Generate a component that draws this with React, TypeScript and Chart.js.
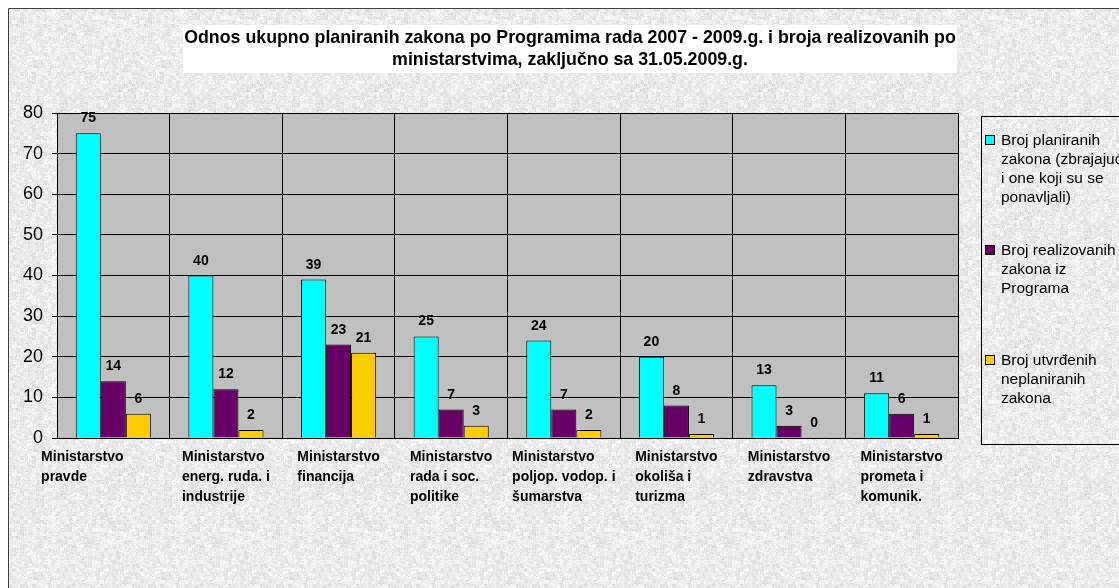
import { useEffect, useRef } from "react";
import { Chart, registerables } from "chart.js";

Chart.register(...registerables);

const categories: string[][] = [
  ["Ministarstvo", "pravde"],
  ["Ministarstvo", "energ. ruda. i", "industrije"],
  ["Ministarstvo", "financija"],
  ["Ministarstvo", "rada i soc.", "politike"],
  ["Ministarstvo", "poljop. vodop. i", "šumarstva"],
  ["Ministarstvo", "okoliša i", "turizma"],
  ["Ministarstvo", "zdravstva"],
  ["Ministarstvo", "prometa i", "komunik."],
];
const planned = [75, 40, 39, 25, 24, 20, 13, 11];
const realized = [14, 12, 23, 7, 7, 8, 3, 6];
const unplanned = [6, 2, 21, 3, 2, 1, 0, 1];
const seriesNames: string[][] = [
  ["Broj planiranih", "zakona (zbrajajući", "i one koji su se", "ponavljali)"],
  ["Broj realizovanih", "zakona iz", "Programa"],
  ["Broj utvrđenih", "neplaniranih", "zakona"],
];
const seriesColors = ["#00FFFF", "#660066", "#FFCC00"];
const titleLines = [
  "Odnos ukupno planiranih zakona po Programima rada 2007 - 2009.g. i broja realizovanih po",
  "ministarstvima, zaključno sa 31.05.2009.g.",
];
const yMin = 0;
const yMax = 80;
const yStep = 10;

const FONT = "'Liberation Sans', Arial, sans-serif";

let texture: CanvasPattern | null = null;
function getTexture(ctx: CanvasRenderingContext2D): CanvasPattern | null {
  if (texture) return texture;
  const size = 128;
  const off = document.createElement("canvas");
  off.width = size;
  off.height = size;
  const octx = off.getContext("2d");
  if (!octx) return null;
  const img = octx.createImageData(size, size);
  const h = (x: number, y: number, s: number) => {
    let n = (x * 374761393 + y * 668265263 + s * 144665) | 0;
    n = ((n ^ (n >>> 13)) * 1274126177) | 0;
    n = n ^ (n >>> 16);
    return ((n >>> 0) % 1000) / 1000;
  };
  for (let y = 0; y < size; y++) {
    for (let x = 0; x < size; x++) {
      const a = h(x, y, 1);
      const b = h(x >> 2, y >> 2, 7);
      const v = Math.round(250 - 38 * (0.55 * a * a + 0.45 * b));
      const i = (y * size + x) * 4;
      img.data[i] = v;
      img.data[i + 1] = v;
      img.data[i + 2] = v;
      img.data[i + 3] = 255;
    }
  }
  octx.putImageData(img, 0, 0);
  texture = ctx.createPattern(off, "repeat");
  return texture;
}

const decorPlugin = {
  id: "decor",
  beforeDraw(chart: any) {
    const { ctx, chartArea, width, height } = chart;
    ctx.save();
    const pat = getTexture(ctx);
    ctx.fillStyle = pat || "#e4e4e4";
    ctx.fillRect(0, 0, width, height);
    ctx.fillStyle = "#C0C0C0";
    ctx.fillRect(chartArea.left, chartArea.top, chartArea.right - chartArea.left, chartArea.bottom - chartArea.top);
    ctx.strokeStyle = "#404040";
    ctx.lineWidth = 1;
    ctx.beginPath();
    ctx.moveTo(0.5, height);
    ctx.lineTo(0.5, 0.5);
    ctx.lineTo(width, 0.5);
    ctx.stroke();
    ctx.restore();
  },
  afterDraw(chart: any) {
    const { ctx, width } = chart;
    const xScale = chart.scales.x;
    ctx.save();

    // Title box
    ctx.fillStyle = "#FFFFFF";
    ctx.fillRect(175, 17, 774, 48);
    ctx.fillStyle = "#000";
    ctx.font = `bold 17.8px ${FONT}`;
    ctx.textAlign = "center";
    ctx.textBaseline = "alphabetic";
    titleLines.forEach((line, i) => {
      ctx.fillText(line, 562, 35 + i * 22);
    });

    // Data labels
    ctx.font = `bold 14px ${FONT}`;
    ctx.textAlign = "center";
    chart.data.datasets.forEach((ds: any, di: number) => {
      const meta = chart.getDatasetMeta(di);
      meta.data.forEach((el: any, i: number) => {
        ctx.fillText(String(ds.data[i]), el.x, el.y - 11);
      });
    });

    // Category labels
    ctx.font = `bold 14px ${FONT}`;
    ctx.textAlign = "left";
    categories.forEach((lines, i) => {
      const cx = xScale.getPixelForValue(i);
      const w = Math.max(...lines.map((l) => ctx.measureText(l).width));
      let left = cx - w / 2;
      if (i === 0) left -= 31;
      lines.forEach((l, j) => {
        ctx.fillText(l, left, 453 + j * 20);
      });
    });

    // Legend
    const lx = 973;
    ctx.strokeStyle = "#000";
    ctx.lineWidth = 1;
    ctx.strokeRect(lx + 0.5, 108.5, width + 10 - lx, 436 - 108);
    ctx.font = `15.5px ${FONT}`;
    seriesNames.forEach((lines, i) => {
      const base = 137 + i * 110;
      ctx.fillStyle = seriesColors[i];
      ctx.fillRect(977, base - 10, 10, 10);
      ctx.strokeStyle = "#000";
      ctx.strokeRect(977.5, base - 9.5, 9, 9);
      ctx.fillStyle = "#000";
      lines.forEach((l, j) => {
        ctx.fillText(l, 993, base + j * 19);
      });
    });

    ctx.restore();
  },
};

export default function App() {
  const ref = useRef<HTMLCanvasElement | null>(null);
  useEffect(() => {
    if (!ref.current) return;
    const series = [planned, realized, unplanned];
    const chart = new Chart(ref.current, {
      type: "bar",
      data: {
        labels: categories.map((c) => c.join(" ")),
        datasets: series.map((d, i) => ({
          label: seriesNames[i].join(" "),
          data: d,
          backgroundColor: seriesColors[i],
          borderColor: "#000",
          borderWidth: 1,
          categoryPercentage: 0.667,
          barPercentage: 1.0,
        })),
      },
      options: {
        animation: false,
        responsive: true,
        maintainAspectRatio: false,
        events: [],
        layout: { padding: { left: 0, top: 105, right: 161, bottom: 150 } },
        plugins: {
          legend: { display: false },
          title: { display: false },
          tooltip: { enabled: false },
        },
        scales: {
          x: {
            grid: { color: "#000", lineWidth: 1, offset: true, drawTicks: false },
            border: { color: "#000", width: 1 },
            ticks: { display: false },
            afterFit: (s: any) => {
              s.height = 0;
            },
          },
          y: {
            min: yMin,
            max: yMax,
            ticks: {
              stepSize: yStep,
              color: "#000",
              font: { family: FONT, size: 18 },
              padding: 9,
            },
            grid: { color: "#000", lineWidth: 1, tickLength: 5 },
            border: { color: "#000", width: 1 },
            afterFit: (s: any) => {
              s.width = 49;
            },
          },
        },
      },
      plugins: [decorPlugin],
    });
    return () => chart.destroy();
  }, []);
  return (
    <div style={{ position: "fixed", left: 8, top: 8, width: 1111, height: 580 }}>
      <canvas ref={ref} />
    </div>
  );
}
